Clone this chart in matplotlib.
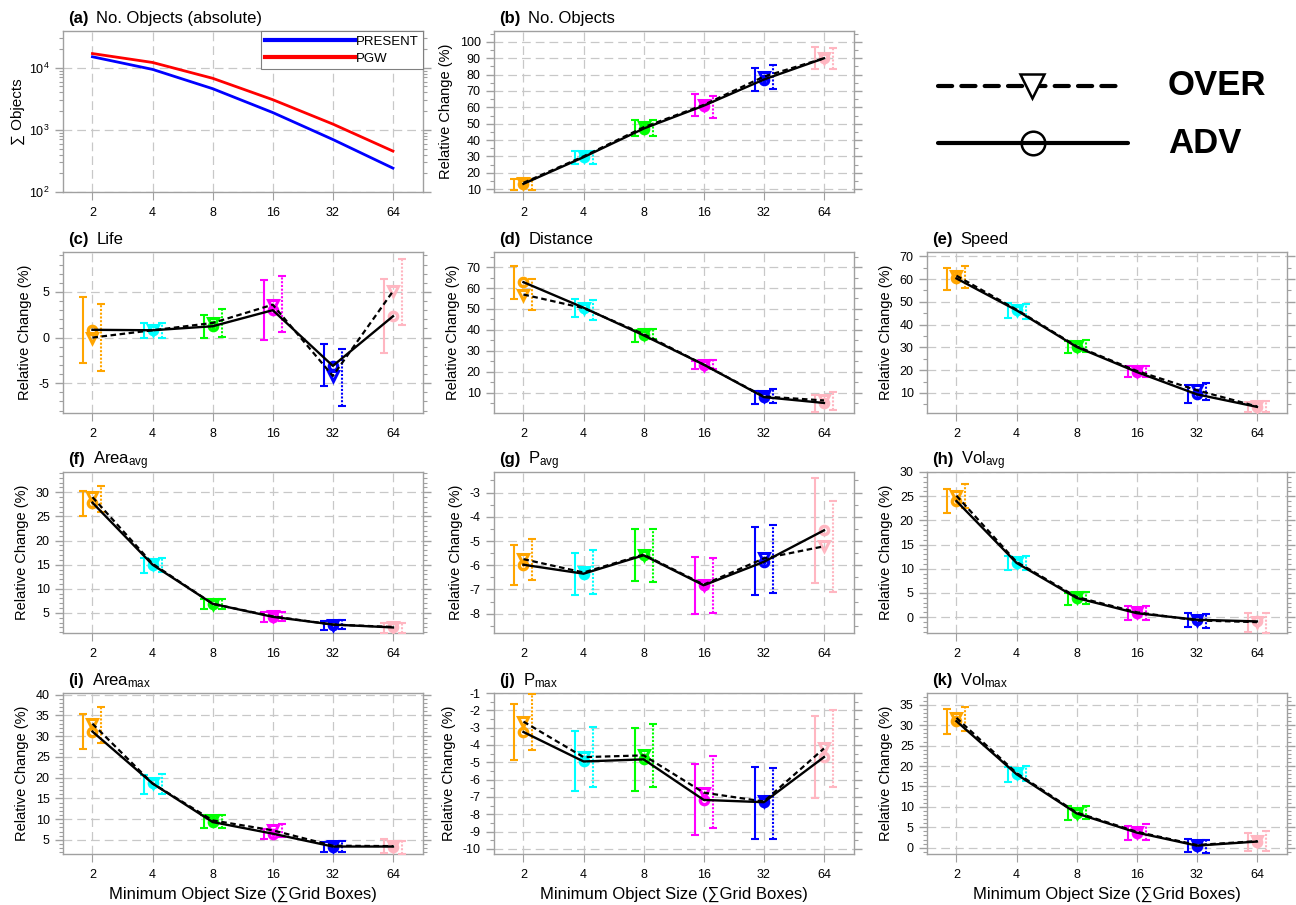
import numpy as np
import matplotlib
matplotlib.use('Agg')
import matplotlib.pyplot as plt
from matplotlib.ticker import MultipleLocator, FixedLocator, LogLocator, NullFormatter
from matplotlib.lines import Line2D

plt.rcParams['font.family'] = ['Liberation Sans', 'DejaVu Sans']
plt.rcParams['mathtext.fontset'] = 'custom'
plt.rcParams['mathtext.rm'] = 'Liberation Sans'
plt.rcParams['mathtext.it'] = 'Liberation Sans:italic'
plt.rcParams['mathtext.bf'] = 'Liberation Sans:bold'

# ---------------- data ----------------
sizes = ['2', '4', '8', '16', '32', '64']
colors = ['#FFA500', '#00FFFF', '#00FF00', '#FF00FF', '#0000FF', '#FFB6C1']

present = [15000, 9400, 4600, 1900, 700, 242]
pgw = [16900, 12150, 6760, 3060, 1240, 455]

b_adv = [13.2, 29.5, 47.0, 61.0, 77.0, 90.0]
b_adv_hi = [16.1, 33.3, 52.1, 67.9, 84.3, 97.0]
b_adv_lo = [9.3, 25.6, 42.4, 54.6, 69.8, 83.5]
b_over = [13.8, 30.0, 47.8, 61.5, 78.8, 90.0]
b_over_hi = [16.0, 33.0, 52.0, 67.0, 86.0, 96.5]
b_over_lo = [9.5, 25.6, 42.2, 53.5, 71.2, 83.3]

c_adv = [0.85, 0.8, 1.24, 3.0, -3.1, 2.33]
c_adv_hi = [4.45, 1.64, 2.44, 6.28, -0.7, 6.38]
c_adv_lo = [-2.78, 0.0, -0.1, -0.22, -5.33, -1.68]
c_over = [0.0, 0.8, 1.6, 3.6, -4.2, 5.07]
c_over_hi = [3.65, 1.64, 3.1, 6.79, -1.2, 8.58]
c_over_lo = [-3.69, 0.0, 0.07, 0.61, -7.52, 1.42]

d_adv = [62.8, 50.6, 37.4, 23.4, 7.9, 5.1]
d_adv_hi = [70.3, 54.6, 39.8, 25.1, 10.8, 9.0]
d_adv_lo = [54.9, 46.1, 34.2, 21.1, 4.7, 0.8]
d_over = [56.9, 50.4, 38.0, 23.4, 8.2, 6.3]
d_over_hi = [64.1, 54.4, 40.2, 25.4, 11.6, 10.3]
d_over_lo = [49.3, 44.5, 35.5, 21.1, 5.0, 1.9]

e_adv = [60.3, 46.3, 30.2, 19.2, 9.4, 3.9]
e_adv_hi = [64.9, 49.7, 32.7, 21.7, 13.4, 6.0]
e_adv_lo = [55.1, 42.9, 27.6, 17.0, 5.6, 1.5]
e_over = [61.5, 46.6, 30.5, 19.7, 11.2, 4.1]
e_over_hi = [65.6, 49.2, 33.1, 21.7, 14.4, 6.3]
e_over_lo = [56.1, 42.6, 27.9, 17.0, 7.0, 1.5]

f_adv = [27.85, 15.0, 6.9, 4.2, 2.6, 2.0]
f_adv_hi = [30.3, 16.3, 7.8, 5.1, 3.3, 3.0]
f_adv_lo = [25.1, 13.3, 5.9, 3.1, 1.5, 0.9]
f_over = [29.0, 15.2, 6.9, 4.3, 2.6, 2.1]
f_over_hi = [31.2, 16.4, 7.8, 5.1, 3.5, 3.0]
f_over_lo = [26.0, 13.5, 5.9, 3.3, 1.7, 0.9]

g_adv = [-5.98, -6.35, -5.59, -6.83, -5.86, -4.56]
g_adv_hi = [-5.15, -5.48, -4.52, -5.66, -4.42, -2.38]
g_adv_lo = [-6.8, -7.24, -6.65, -8.03, -7.24, -6.73]
g_over = [-5.75, -6.3, -5.56, -6.8, -5.72, -5.22]
g_over_hi = [-4.93, -5.38, -4.52, -5.69, -4.35, -3.34]
g_over_lo = [-6.6, -7.2, -6.69, -7.97, -7.15, -7.1]

h_adv = [24.0, 11.2, 3.94, 0.8, -0.56, -0.9]
h_adv_hi = [26.5, 12.6, 5.05, 2.3, 0.8, 0.8]
h_adv_lo = [21.6, 9.8, 2.55, -0.7, -2.1, -3.0]
h_over = [25.1, 11.4, 4.15, 1.0, -0.7, -1.05]
h_over_hi = [27.5, 12.7, 5.2, 2.3, 0.66, 0.8]
h_over_lo = [22.5, 9.7, 2.6, -0.56, -2.3, -3.2]

i_adv = [31.1, 18.6, 9.3, 6.5, 3.4, 3.4]
i_adv_hi = [35.4, 20.6, 10.9, 7.7, 4.6, 5.1]
i_adv_lo = [26.8, 16.0, 7.8, 5.1, 2.0, 1.8]
i_over = [33.0, 18.6, 9.7, 7.3, 3.6, 3.5]
i_over_hi = [37.0, 20.8, 10.9, 8.9, 4.8, 4.8]
i_over_lo = [28.4, 16.0, 7.8, 5.6, 2.2, 1.6]

j_adv = [-3.25, -4.95, -4.83, -7.17, -7.3, -4.7]
j_adv_hi = [-1.66, -3.2, -3.02, -5.08, -5.28, -2.35]
j_adv_lo = [-4.89, -6.66, -6.66, -9.19, -9.42, -7.07]
j_over = [-2.65, -4.7, -4.6, -6.75, -7.26, -4.2]
j_over_hi = [-1.04, -2.97, -2.81, -4.66, -5.32, -2.0]
j_over_lo = [-4.28, -6.43, -6.43, -8.78, -9.42, -6.4]

k_adv = [31.0, 18.0, 8.4, 3.7, 0.5, 1.5]
k_adv_hi = [33.9, 19.8, 10.3, 5.3, 2.1, 3.7]
k_adv_lo = [27.9, 16.1, 6.8, 1.9, -1.1, -0.7]
k_over = [31.8, 18.3, 8.6, 3.9, 0.66, 1.6]
k_over_hi = [34.4, 19.9, 10.3, 5.7, 2.0, 4.1]
k_over_lo = [28.6, 16.4, 7.0, 2.0, -1.4, -0.8]

# ---------------- layout ----------------
W, H = 1296, 905
fig = plt.figure(figsize=(W / 100, H / 100), dpi=100)

col_left = [63, 494, 927]
row_top = [31, 252, 472, 693]
ax_w, ax_h = 360, 161

def make_axes(col, row):
    l = col_left[col] / W
    b = 1 - (row_top[row] + ax_h) / H
    return fig.add_axes([l, b, ax_w / W, ax_h / H])

x = np.arange(len(sizes))
SPINE = '#a0a0a0'
GRID = '#c8c8c8'

def style_axes(ax, major=None, minor=None, log=False):
    ax.set_xlim(-0.49, 5.5)
    ax.set_xticks(x)
    ax.set_xticklabels(sizes)
    for s in ax.spines.values():
        s.set_color(SPINE)
        s.set_linewidth(1.0)
    if not log:
        ax.yaxis.set_major_locator(MultipleLocator(major))
        ax.yaxis.set_minor_locator(MultipleLocator(minor))
    ax.tick_params(axis='y', which='both', left=True, right=True, direction='out',
                   color=SPINE, labelsize=9)
    ax.tick_params(axis='y', which='major', length=6, width=1)
    ax.tick_params(axis='y', which='minor', length=3, width=0.8)
    ax.tick_params(axis='x', which='major', bottom=True, top=False, direction='out',
                   length=6, color=SPINE, labelsize=9, pad=5)
    ax.tick_params(axis='x', which='minor', bottom=False, top=False)
    ax.grid(True, which='major', color=GRID, linestyle=(0, (7, 4)), linewidth=0.9)
    ax.set_axisbelow(True)

def title(ax, tag, text):
    t = ax.annotate(tag, xy=(0, 1), xycoords='axes fraction', xytext=(5, 8),
                    textcoords='offset pixels', fontsize=12, fontweight='bold',
                    ha='left', va='baseline')
    ax.annotate(text, xy=(1, 1), xycoords=(t, 'axes fraction'), xytext=(8, 8),
                textcoords='offset pixels', fontsize=12, ha='left', va='baseline')

def rel_panel(ax, adv, adv_hi, adv_lo, over, over_hi, over_lo):
    off = 0.15
    for k in range(len(x)):
        c = colors[k]
        # ADV error bar (solid, left)
        mid = (adv_hi[k] + adv_lo[k]) / 2
        err = (adv_hi[k] - adv_lo[k]) / 2
        ax.errorbar([x[k] - off], [mid], yerr=[err], fmt='none', ecolor=c,
                    elinewidth=1.5, capsize=2.6, capthick=1.5, zorder=3)
        # OVER error bar (dotted, right)
        mid = (over_hi[k] + over_lo[k]) / 2
        err = (over_hi[k] - over_lo[k]) / 2
        eb = ax.errorbar([x[k] + off], [mid], yerr=[err], fmt='none', ecolor=c,
                         elinewidth=1.5, capsize=2.6, capthick=1.5, zorder=3)
        eb[2][0].set_linestyle((0, (1.0, 0.8)))
        # markers
        ax.plot([x[k]], [over[k]], marker='v', ms=6.5, mew=2.2, mfc='none', mec=c,
                ls='none', zorder=4)
        ax.plot([x[k]], [adv[k]], marker='o', ms=6.0, mew=2.4, mfc='none', mec=c,
                ls='none', zorder=4)
    ax.plot(x, over, color='black', lw=1.6, ls=(0, (2.5, 1.6)), zorder=5)
    ax.plot(x, adv, color='black', lw=1.7, ls='-', zorder=5)
    ax.set_ylabel('Relative Change (%)', fontsize=10.5, labelpad=5)

# ---- panel (a)
ax = make_axes(0, 0)
ax.set_yscale('log')
ax.plot(x, present, color='#0000FF', lw=2.0, label='PRESENT', zorder=4)
ax.plot(x, pgw, color='#FF0000', lw=2.0, label='PGW', zorder=4)
ax.set_ylim(100, 39000)
style_axes(ax, log=True)
ax.yaxis.set_major_locator(LogLocator(base=10, numticks=10))
ax.yaxis.set_minor_locator(LogLocator(base=10, subs=np.arange(2, 10), numticks=10))
ax.yaxis.set_minor_formatter(NullFormatter())
ax.set_ylabel('∑ Objects', fontsize=11, labelpad=3)
leg = ax.legend(loc='upper right', borderaxespad=0, fontsize=9.5, handlelength=6.8,
                handletextpad=0.05, borderpad=0.35, labelspacing=0.35, fancybox=False,
                framealpha=1, edgecolor='#808080')
leg.get_frame().set_linewidth(0.8)
for ln in leg.get_lines():
    ln.set_linewidth(3.0)
title(ax, '(a)', 'No. Objects (absolute)')

panels = [
    ('(b)', 'No. Objects', 1, 0, (8.2, 106.7), 10, 5,
     b_adv, b_adv_hi, b_adv_lo, b_over, b_over_hi, b_over_lo),
    ('(c)', 'Life', 0, 1, (-8.26, 9.37), 5, 1,
     c_adv, c_adv_hi, c_adv_lo, c_over, c_over_hi, c_over_lo),
    ('(d)', 'Distance', 1, 1, (0.3, 77.2), 10, 5,
     d_adv, d_adv_hi, d_adv_lo, d_over, d_over_hi, d_over_lo),
    ('(e)', 'Speed', 2, 1, (1.2, 71.9), 10, 5,
     e_adv, e_adv_hi, e_adv_lo, e_over, e_over_hi, e_over_lo),
    ('(f)', r'Area$_{\mathregular{avg}}$', 0, 2, (0.85, 34.2), 5, 1,
     f_adv, f_adv_hi, f_adv_lo, f_over, f_over_hi, f_over_lo),
    ('(g)', r'P$_{\mathregular{avg}}$', 1, 2, (-8.8, -2.15), 1, 0.5,
     g_adv, g_adv_hi, g_adv_lo, g_over, g_over_hi, g_over_lo),
    ('(h)', r'Vol$_{\mathregular{avg}}$', 2, 2, (-3.3, 30.0), 5, 1,
     h_adv, h_adv_hi, h_adv_lo, h_over, h_over_hi, h_over_lo),
    ('(i)', r'Area$_{\mathregular{max}}$', 0, 3, (1.6, 40.4), 5, 1,
     i_adv, i_adv_hi, i_adv_lo, i_over, i_over_hi, i_over_lo),
    ('(j)', r'P$_{\mathregular{max}}$', 1, 3, (-10.29, -1.0), 1, 0.5,
     j_adv, j_adv_hi, j_adv_lo, j_over, j_over_hi, j_over_lo),
    ('(k)', r'Vol$_{\mathregular{max}}$', 2, 3, (-1.55, 37.9), 5, 1,
     k_adv, k_adv_hi, k_adv_lo, k_over, k_over_hi, k_over_lo),
]

for tag, name, col, row, ylim, major, minor, *vals in panels:
    ax = make_axes(col, row)
    rel_panel(ax, *vals)
    ax.set_ylim(*ylim)
    style_axes(ax, major, minor)
    ax.set_yticklabels([('%g' % v) for v in ax.get_yticks()])
    ax.set_ylim(*ylim)
    title(ax, tag, name)
    if row == 3:
        ax.set_xlabel('Minimum Object Size (∑Grid Boxes)', fontsize=12, labelpad=4)

# ---- key panel (top right)
lax = make_axes(2, 0)
lax.set_axis_off()
lax.set_xlim(0, 1)
lax.set_ylim(0, 1)
lax.add_line(Line2D([0.031, 0.542], [0.66, 0.66], color='black', lw=3.0,
                    ls=(0, (3.4, 2.2)), solid_capstyle='round', dash_capstyle='round'))
lax.plot([0.292], [0.66], marker='v', ms=17, mew=1.8, mfc='white', mec='black', zorder=5)
lax.add_line(Line2D([0.031, 0.558], [0.302, 0.302], color='black', lw=3.0,
                    solid_capstyle='round'))
lax.plot([0.295], [0.302], marker='o', ms=17, mew=1.8, mfc='none', mec='black', zorder=5)
lax.text(0.669, 0.66, 'OVER', fontsize=25, fontweight='bold', ha='left', va='center')
lax.text(0.669, 0.302, 'ADV', fontsize=25, fontweight='bold', ha='left', va='center')

fig.savefig('out.png', dpi=100)
